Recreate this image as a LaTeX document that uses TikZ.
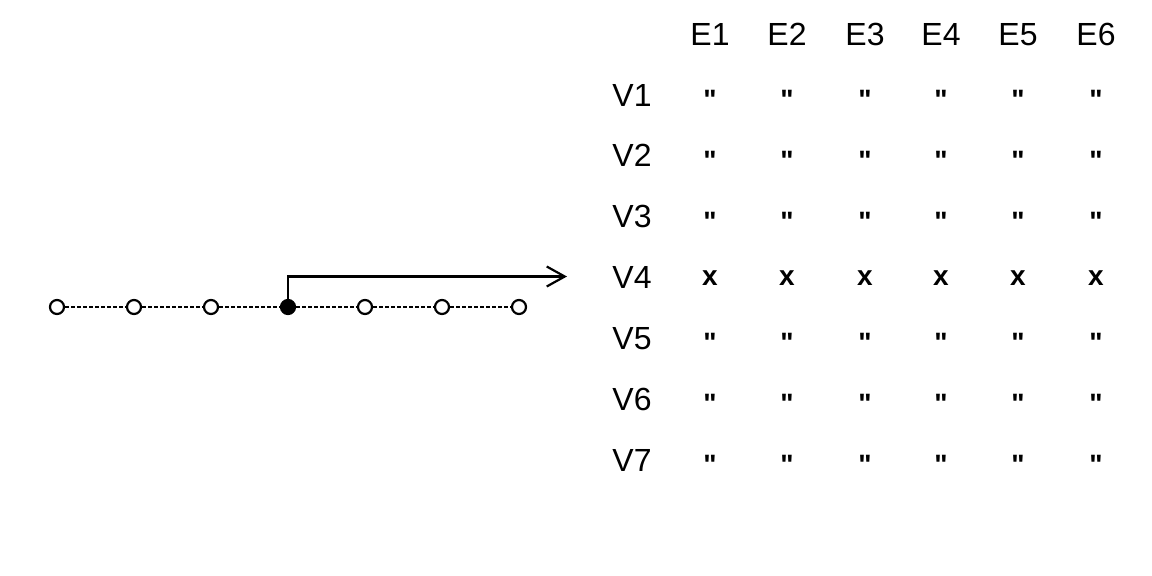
\documentclass[tikz,border=0pt]{standalone}
\usepackage{fontspec}
\setmainfont{Liberation Sans}
\newfontfamily\qfont[Ligatures=TeXOff]{Liberation Sans}
\usetikzlibrary{arrows.meta}
\begin{document}
\begin{tikzpicture}[x=1pt,y=-1pt,
  vert/.style={circle,draw,line width=2.2pt,minimum size=14pt,inner sep=0pt,fill=white},
  selvert/.style={vert,fill=black},
  link/.style={line width=2pt,dash pattern=on 3.5pt off 2.5pt},
  lab/.style={anchor=base,inner sep=0pt,font=\fontsize{32}{32}\selectfont},
  cellmark/.style={anchor=base,inner sep=0pt,font=\qfont\fontsize{28}{28}\selectfont\bfseries}]
\useasboundingbox (0,0) rectangle (1152,576);
% chain
\foreach \i/\x in {1/57,2/134,3/211,5/365,6/442,7/519} \node[vert] (n\i) at (\x,307) {};
\node[selvert] (n4) at (288,307) {};
\foreach \a/\b in {1/2,2/3,3/4,4/5,5/6,6/7} \draw[link] (n\a) -- (n\b);
\coordinate (tip) at (567,276.5);
\draw[line width=2.2pt,-{Straight Barb[length=18pt,width=20pt,line width=2.2pt]}] (n4.north) |- (tip);
% header
\foreach \j/\x in {1/710,2/787,3/865,4/941,5/1018,6/1096}
  \node[lab] (e\j) at (\x,45) {E\j};
% rows
\foreach \r/\y in {1/106,2/166.8,3/227.7,4/288.5,5/349.3,6/410.2,7/471}{
  \node[lab] (v\r) at (632,\y) {V\r};
  \foreach \j/\x in {1/710,2/787,3/865,4/941,5/1018,6/1096}{
    \ifnum\r=4
      \node[cellmark] (m\r\j) at (\x,\y-3.5) {x};
    \else
      \node[cellmark] (m\r\j) at (\x,\y+3.3) {"};
    \fi
  }
}
\end{tikzpicture}
\end{document}
